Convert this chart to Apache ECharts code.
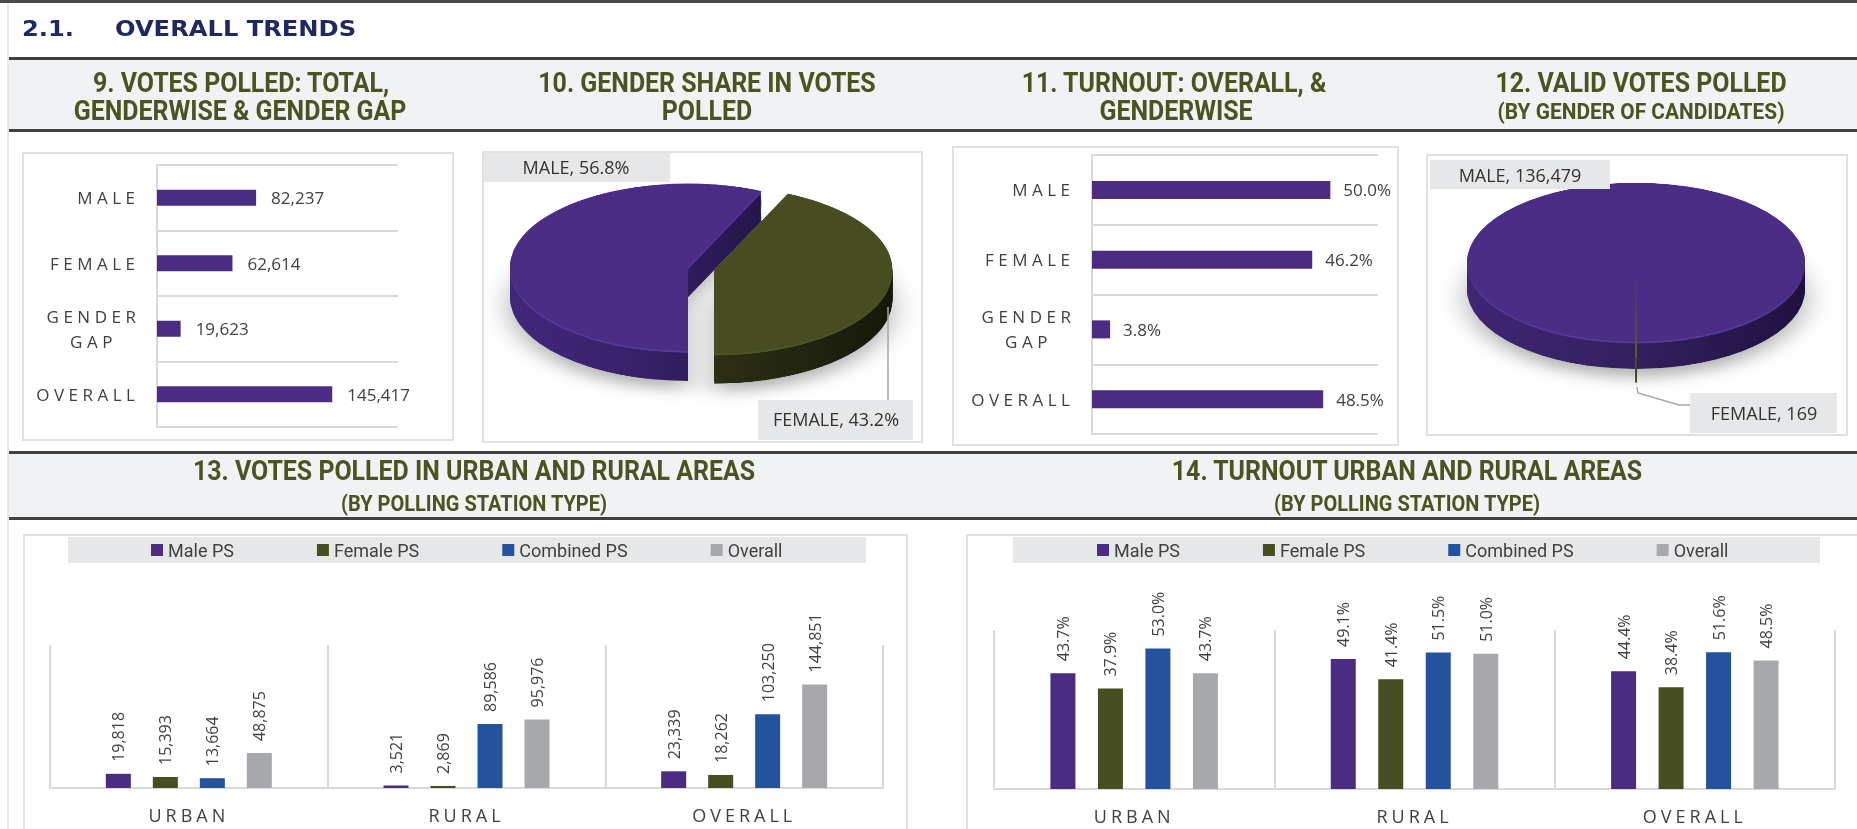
<!DOCTYPE html>
<html>
<head>
<meta charset="utf-8">
<script src="https://cdn.jsdelivr.net/npm/echarts@6/dist/echarts.min.js"></script>
<style>
html,body{margin:0;padding:0;background:#fff;width:1857px;height:829px;overflow:hidden}
#main{position:absolute;left:0;top:0;width:1857px;height:829px;z-index:2}
.pieWrap{position:absolute;z-index:1}
.pieInner{transform-origin:0 0}
text[style*="zzA"]{letter-spacing:4.5px}
text[style*="zzB"]{letter-spacing:4px}
</style>
</head>
<body>
<div id="main"></div>
<div class="pieWrap" style="left:483px;top:152px;width:440px;height:290px"><div class="pieInner" id="p10"></div></div>
<div class="pieWrap" style="left:1427px;top:155px;width:420px;height:280px"><div class="pieInner" id="p12"></div></div>
<script>
// ---------------- DATA ----------------
const topCats = ['MALE', 'FEMALE', 'GENDER GAP', 'OVERALL'];
const votesPolled = [82237, 62614, 19623, 145417];
const turnout = [50.0, 46.2, 3.8, 48.5];

const shareNames = ['MALE', 'FEMALE'];
const shareVotes = [82237, 62614];

const candNames = ['MALE', 'FEMALE'];
const candValidVotes = [136479, 169];

const areaCats = ['URBAN', 'RURAL', 'OVERALL'];
const psTypes = ['Male PS', 'Female PS', 'Combined PS', 'Overall'];
const votesMalePS = [19818, 3521, 23339];
const votesFemalePS = [15393, 2869, 18262];
const votesCombinedPS = [13664, 89586, 103250];
const votesOverall = [48875, 95976, 144851];
const turnoutMalePS = [43.7, 49.1, 44.4];
const turnoutFemalePS = [37.9, 41.4, 38.4];
const turnoutCombinedPS = [53.0, 51.5, 51.6];
const turnoutOverall = [43.7, 51.0, 48.5];

// ---------------- STYLE ----------------
const purple = '#4a2d82', olive = '#474e22', blue = '#24529c', grayc = '#a7a8ac';
const psColors = [purple, olive, blue, grayc];
const txt = '#404040';
const hdr = '#4b5320';
const navy = '#1f2862';
const fmtInt = v => Number(v).toLocaleString('en-US');
const fmtPct = v => Number(v).toFixed(1) + '%';

function T(x, y, s, font, fill, align, sx) {
  return {type: 'text', x: x, y: y, scaleX: sx || 1, silent: true, z: 10,
    style: {text: s, x: 0, y: 0, font: font, fill: fill, textAlign: align || 'center',
      textVerticalAlign: 'middle', verticalAlign: 'middle'}};
}
function R(x, y, w, h, fill) {
  return {type: 'rect', silent: true, z: 0, shape: {x: x, y: y, width: w, height: h}, style: {fill: fill}};
}
function Bx(x, y, w, h) {
  return {type: 'rect', silent: true, z: 1, shape: {x: x, y: y, width: w, height: h},
    style: {fill: 'none', stroke: '#e1e1e1', lineWidth: 2}};
}
function PL(pts) {
  return {type: 'polyline', silent: true, z: 5, shape: {points: pts},
    style: {fill: 'none', stroke: '#a6a6a6', lineWidth: 1.5}};
}

const H1 = 'bold 28px Roboto', H2 = 'bold 22px Roboto', HS = 0.89, HS2 = 0.91;
const labFont = '18px "Open Sans"';
const TITLE = 'bold 22px "DejaVu Sans", sans-serif';

const sum10 = shareVotes.reduce((a, b) => a + b, 0);
const pieLab10 = shareNames.map((n, i) => n + ', ' + (shareVotes[i] / sum10 * 100).toFixed(1) + '%');
const pieLab12 = candNames.map((n, i) => n + ', ' + fmtInt(candValidVotes[i]));

const graphics = [
  // page frame
  {type: 'line', silent: true, shape: {x1: 8, y1: 0, x2: 8, y2: 829}, style: {stroke: '#cfcfcf', lineWidth: 1}},
  R(0, 0, 1857, 3, '#4a4a4a'),
  T(22, 28, '2.1.', TITLE, navy, 'left', 1.1),
  T(115, 28, 'OVERALL TRENDS', TITLE, navy, 'left', 1.1),
  // band 1
  R(9, 57, 1848, 3, '#404040'),
  R(9, 60, 1848, 69, '#f1f2f4'),
  R(9, 129, 1848, 3, '#404040'),
  T(241, 82, '9. VOTES POLLED: TOTAL,', H1, hdr, 'center', HS),
  T(240, 110, 'GENDERWISE & GENDER GAP', H1, hdr, 'center', HS),
  T(707, 82, '10. GENDER SHARE IN VOTES', H1, hdr, 'center', HS),
  T(707, 110, 'POLLED', H1, hdr, 'center', HS),
  T(1174, 82, '11. TURNOUT: OVERALL, &', H1, hdr, 'center', HS),
  T(1176, 110, 'GENDERWISE', H1, hdr, 'center', HS),
  T(1641, 82, '12. VALID VOTES POLLED', H1, hdr, 'center', HS),
  T(1641, 111, '(BY GENDER OF CANDIDATES)', H2, hdr, 'center', 0.95),
  // panel boxes top
  Bx(23, 153, 430, 287),
  Bx(483, 152, 439, 290),
  Bx(953, 147, 445, 298),
  Bx(1427, 155, 420, 280),
  // pie labels
  R(483, 153, 187, 29, '#e6e7e9'),
  T(576, 167, pieLab10[0], labFont, '#333'),
  R(758, 400, 155, 40, '#e6e7e9'),
  T(836, 419, pieLab10[1], labFont, '#333'),
  PL([[888, 307], [888, 400]]),
  R(1430, 160, 180, 29, '#e6e7e9'),
  T(1520, 175, pieLab12[0], labFont, '#333'),
  R(1690, 393, 147, 40, '#e6e7e9'),
  T(1764, 413, pieLab12[1], labFont, '#333'),
  PL([[1637, 387], [1638, 393], [1679, 405], [1690, 405]]),
  // band 2
  R(9, 451, 1848, 3, '#404040'),
  R(9, 454, 1848, 63, '#f1f2f4'),
  R(9, 517, 1848, 3, '#404040'),
  T(474, 470, '13. VOTES POLLED IN URBAN AND RURAL AREAS', H1, hdr, 'center', HS),
  T(474, 503, '(BY POLLING STATION TYPE)', H2, hdr, 'center', HS2),
  T(1407, 470, '14. TURNOUT URBAN AND RURAL AREAS', H1, hdr, 'center', HS),
  T(1407, 503, '(BY POLLING STATION TYPE)', H2, hdr, 'center', HS2),
  // bottom panels
  Bx(24, 535, 883, 320),
  Bx(967, 535, 920, 320),
  R(68, 537, 798, 26, '#e6e7e9'),
  R(1013, 537, 807, 26, '#e6e7e9')
];

const catLabelA = {
  fontFamily: 'Open Sans, zzA', fontSize: 17, color: txt, margin: 17.5,
  formatter: v => v === 'GENDER GAP' ? '{g|GENDER}\n{g|GAP}' : v,
  rich: {g: {fontFamily: 'Open Sans, zzA', fontSize: 17, color: txt, width: 92, align: 'center', lineHeight: 25}}
};
const valLabel = (fmt, dist) => ({show: true, position: 'right', distance: dist,
  formatter: p => fmt(p.value), fontFamily: 'Open Sans', fontSize: 17, color: txt});
const rotLabel = fmt => ({show: true, position: 'top', distance: 12, rotate: 90, align: 'left',
  verticalAlign: 'middle', formatter: p => fmt(p.value), fontFamily: 'Open Sans', fontSize: 16, color: txt});
const gridLine = {show: true, lineStyle: {color: '#d9d9d9', width: 2}};

const votesSets = [votesMalePS, votesFemalePS, votesCombinedPS, votesOverall];
const turnoutSets = [turnoutMalePS, turnoutFemalePS, turnoutCombinedPS, turnoutOverall];

const legendBase = {data: psTypes, icon: 'rect', itemWidth: 12, itemHeight: 12, itemGap: 83, padding: 0,
  selectedMode: false, textStyle: {fontFamily: 'Roboto', fontSize: 18, color: txt}};

const mainOpt = {
  animation: false,
  graphic: {elements: graphics},
  legend: [Object.assign({left: 151, top: 541}, legendBase), Object.assign({left: 1097, top: 541}, legendBase)],
  grid: [
    {left: 157, top: 165, width: 241, height: 262},
    {left: 1092, top: 155, width: 286, height: 279},
    {left: 50, top: 645, width: 833, height: 143},
    {left: 994, top: 630, width: 841, height: 159}
  ],
  xAxis: [
    {gridIndex: 0, type: 'value', min: 0, max: 200000, show: false},
    {gridIndex: 1, type: 'value', min: 0, max: 60, show: false},
    {gridIndex: 2, type: 'category', data: areaCats, axisTick: {show: false},
      axisLine: {lineStyle: {color: '#d9d9d9', width: 2}}, splitLine: gridLine,
      axisLabel: {fontFamily: 'Open Sans, zzB', fontSize: 18, color: txt, margin: 18}},
    {gridIndex: 3, type: 'category', data: areaCats, axisTick: {show: false},
      axisLine: {lineStyle: {color: '#d9d9d9', width: 2}}, splitLine: gridLine,
      axisLabel: {fontFamily: 'Open Sans, zzB', fontSize: 18, color: txt, margin: 18}}
  ],
  yAxis: [
    {gridIndex: 0, type: 'category', inverse: true, data: topCats, axisTick: {show: false},
      axisLine: {show: true, lineStyle: {color: '#d9d9d9', width: 2}}, splitLine: gridLine, axisLabel: catLabelA},
    {gridIndex: 1, type: 'category', inverse: true, data: topCats, axisTick: {show: false},
      axisLine: {show: true, lineStyle: {color: '#d9d9d9', width: 2}}, splitLine: gridLine, axisLabel: catLabelA},
    {gridIndex: 2, type: 'value', min: 0, max: 200000, show: false},
    {gridIndex: 3, type: 'value', min: 0, max: 60, show: false}
  ],
  series: [
    {type: 'bar', name: 'Votes polled', xAxisIndex: 0, yAxisIndex: 0, data: votesPolled, barWidth: 16,
      itemStyle: {color: purple}, label: valLabel(fmtInt, 15)},
    {type: 'bar', name: 'Turnout', xAxisIndex: 1, yAxisIndex: 1, data: turnout, barWidth: 18,
      itemStyle: {color: purple}, label: valLabel(fmtPct, 13)}
  ].concat(psTypes.map((n, i) => ({
    type: 'bar', name: n, xAxisIndex: 2, yAxisIndex: 2, data: votesSets[i], barWidth: 25, barGap: '88%',
    itemStyle: {color: psColors[i]}, label: rotLabel(fmtInt)
  }))).concat(psTypes.map((n, i) => ({
    type: 'bar', name: n, xAxisIndex: 3, yAxisIndex: 3, data: turnoutSets[i], barWidth: 25, barGap: '90%',
    itemStyle: {color: psColors[i]}, label: rotLabel(fmtPct)
  })))
};

const main = echarts.init(document.getElementById('main'), null, {renderer: 'svg', width: 1857, height: 829});
main.setOption(mainOpt);
function spaceText() {
  document.querySelectorAll('#main text').forEach(t => {
    const s = (t.getAttribute('style') || '') + (t.getAttribute('font-family') || '');
    if (s.indexOf('zzA') >= 0) t.style.letterSpacing = '4.5px';
    else if (s.indexOf('zzB') >= 0) t.style.letterSpacing = '4px';
  });
}
main.on('finished', spaceText);
setTimeout(spaceText, 50);

// ---------------- 3D-look pies ----------------
const SQ = 0.47;
function grad(stops) {
  return {type: 'linear', x: 0, y: 0, x2: 1, y2: 0, colorStops: stops.map((c, i) => ({offset: i / (stops.length - 1), color: c}))};
}
function pie3d(elId, pageW, pageH, names, values, cfg) {
  const el = document.getElementById(elId);
  const h = Math.round(pageH / SQ);
  el.style.width = pageW + 'px';
  el.style.height = h + 'px';
  el.style.transform = 'scaleY(' + SQ + ')';
  const ch = echarts.init(el, null, {renderer: 'canvas', width: pageW, height: h});
  const series = [];
  const n = Math.round(cfg.depth / cfg.step);
  for (let k = n; k >= 0; k--) {
    const isTop = k === 0;
    const rim = k > 0 && k <= 2;
    series.push({
      type: 'pie', silent: true, animation: false, clockwise: true,
      center: [cfg.cx, cfg.cy + k * cfg.step], radius: cfg.r, startAngle: cfg.startAngle,
      selectedMode: 'multiple', selectedOffset: cfg.explode, minAngle: 0,
      label: {show: false}, labelLine: {show: false}, emphasis: {disabled: true},
      data: values.map((v, i) => ({
        name: names[i], value: v, selected: i === cfg.explodeIndex,
        itemStyle: Object.assign({borderWidth: 0,
          color: isTop ? cfg.top[i] : (rim ? cfg.rim[i] : grad(cfg.side[i]))},
          k === n ? {shadowBlur: 30, shadowColor: 'rgba(0,0,0,0.3)', shadowOffsetY: 18} : {})
      }))
    });
  }
  ch.setOption({animation: false, series: series});
}
pie3d('p10', 440, 290, shareNames, shareVotes, {
  cx: 205, cy: 245, r: 178, depth: 64, step: 2, startAngle: 270, explode: 27, explodeIndex: 1,
  top: ['#4a2d84', '#474d21'], rim: ['#56399a', '#4f5528'],
  side: [['#40287a', '#37226a', '#24164a'], ['#2d3014', '#22250f', '#15170a']]
});
const femAngle = candValidVotes[1] / candValidVotes.reduce((a, b) => a + b, 0) * 360;
pie3d('p12', 420, 280, candNames, candValidVotes, {
  cx: 209, cy: 228, r: 169, depth: 57, step: 2, startAngle: -90 - femAngle / 2, explode: 30, explodeIndex: 1,
  top: ['#4a2d84', '#5a6128'], rim: ['#56399a', '#5a6128'],
  side: [['#3e2775', '#33205f', '#1f1240'], ['#4f5524', '#3c411b']]
});
</script>
</body>
</html>
